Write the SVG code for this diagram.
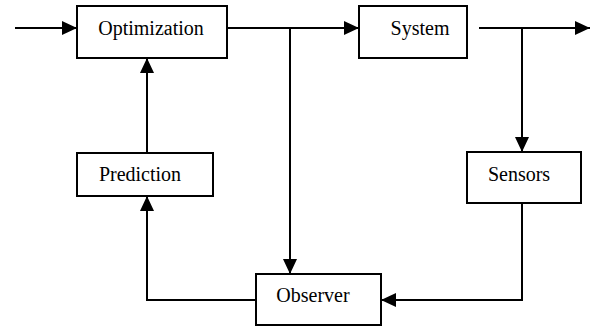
<svg xmlns="http://www.w3.org/2000/svg" width="590" height="329" viewBox="0 0 590 329">
<style>
.box{fill:#fff;stroke:#000;stroke-width:2}
.lbl{font-family:'Liberation Serif','DejaVu Serif','Times New Roman',serif;font-size:20px;fill:#000;text-anchor:middle}
.ln{fill:none;stroke:#000;stroke-width:2}
</style>
<defs>
<marker id="ah" markerWidth="15" markerHeight="14" refX="15" refY="7" orient="auto" markerUnits="userSpaceOnUse">
<path d="M0,0 L15,7 L0,14 Z" fill="#000"/>
</marker>
</defs>
<rect width="590" height="329" fill="#fff"/>
<g id="connectors">
<path class="ln" d="M15,28 H77" marker-end="url(#ah)"/>
<path class="ln" d="M227,28 H359" marker-end="url(#ah)"/>
<path class="ln" d="M290,28 V274" marker-end="url(#ah)"/>
<path class="ln" d="M479,28 H590" marker-end="url(#ah)"/>
<path class="ln" d="M522,28 V152" marker-end="url(#ah)"/>
<path class="ln" d="M522,203 V300 H381" marker-end="url(#ah)"/>
<path class="ln" d="M256,300 H147 V196" marker-end="url(#ah)"/>
<path class="ln" d="M147,153 V58" marker-end="url(#ah)"/>
</g>
<g id="optimization">
<rect class="box" x="77" y="6" width="150" height="52"/>
<text class="lbl" x="151" y="35" font-family="Liberation Serif, serif">Optimization</text>
</g>
<g id="system">
<rect class="box" x="359" y="6" width="108" height="52"/>
<text class="lbl" x="420" y="35" font-family="Liberation Serif, serif">System</text>
</g>
<g id="prediction">
<rect class="box" x="77" y="153" width="136" height="43"/>
<text class="lbl" x="140" y="181" font-family="Liberation Serif, serif">Prediction</text>
</g>
<g id="sensors">
<rect class="box" x="467" y="152" width="114" height="51"/>
<text class="lbl" x="519" y="181" font-family="Liberation Serif, serif">Sensors</text>
</g>
<g id="observer">
<rect class="box" x="256" y="274" width="125" height="51"/>
<text class="lbl" x="313" y="302" font-family="Liberation Serif, serif">Observer</text>
</g>
</svg>
